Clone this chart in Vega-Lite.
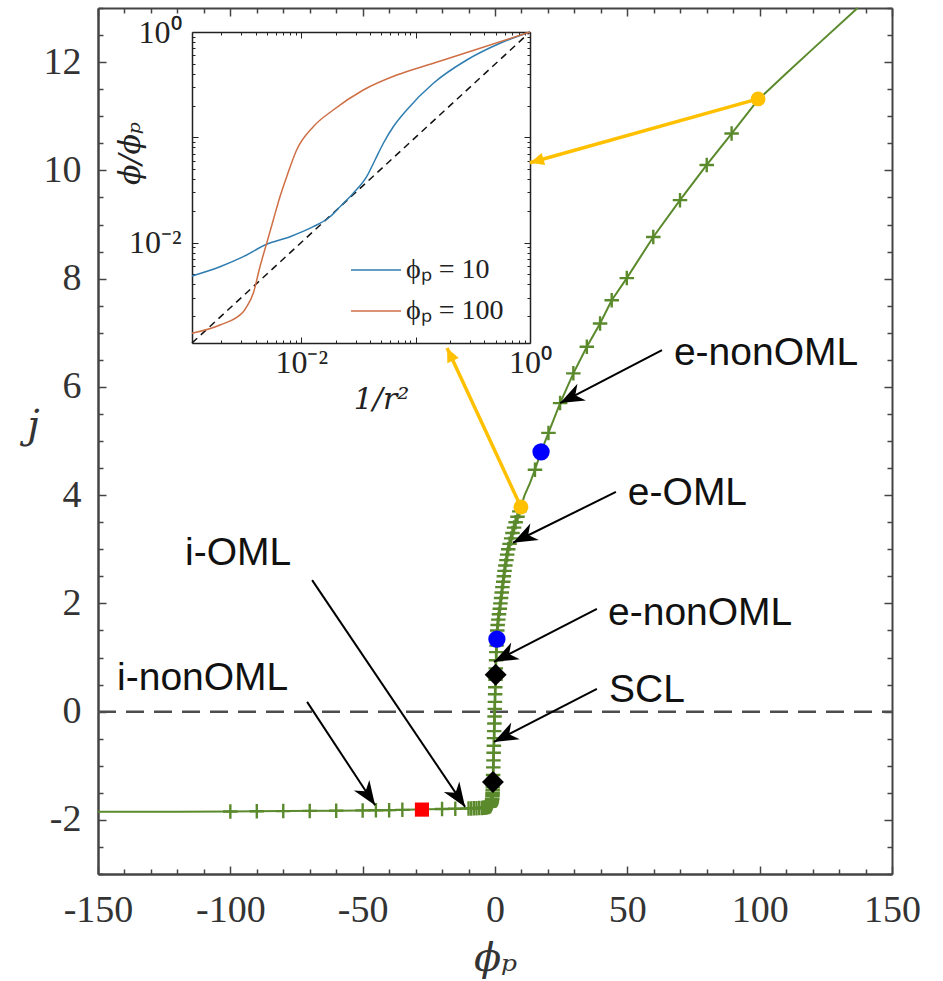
{
  "$schema": "https://vega.github.io/schema/vega-lite/v6.json",
  "width": 794,
  "height": 866,
  "autosize": {"type": "none"},
  "padding": {"left": 98, "top": 8, "right": 51, "bottom": 107},
  "background": "white",
  "config": {
    "view": {"stroke": null},
    "font": "Liberation Serif",
    "axis": {"grid": false, "labelColor": "#333333", "domainColor": "#444444", "tickColor": "#444444", "labelFont": "Liberation Serif", "titleFont": "DejaVu Serif", "titleColor": "#333333", "titleFontWeight": "normal", "labelOverlap": false, "labelFlush": false}
  },
  "datasets": {
    "curve": [
      {"phi": -150, "j": -1.85}, {"phi": -120, "j": -1.848}, {"phi": -100, "j": -1.845}, {"phi": -80, "j": -1.838},
      {"phi": -60, "j": -1.83}, {"phi": -40, "j": -1.82}, {"phi": -30, "j": -1.81}, {"phi": -20, "j": -1.8},
      {"phi": -12, "j": -1.79}, {"phi": -8, "j": -1.785}, {"phi": -5, "j": -1.78}, {"phi": -3, "j": -1.765},
      {"phi": -2, "j": -1.75}, {"phi": -1.4, "j": -1.7}, {"phi": -1.05, "j": -1.61}, {"phi": -0.9, "j": -1.5},
      {"phi": -0.8, "j": -1.35}, {"phi": -0.6, "j": -0.95}, {"phi": -0.3, "j": -0.36}, {"phi": 0, "j": 0.25},
      {"phi": 0.3, "j": 0.8}, {"phi": 0.6, "j": 1.22}, {"phi": 0.85, "j": 1.5}, {"phi": 1.25, "j": 1.7},
      {"phi": 1.8, "j": 1.9}, {"phi": 2.3, "j": 2.1}, {"phi": 2.8, "j": 2.3}, {"phi": 3.35, "j": 2.5},
      {"phi": 3.9, "j": 2.7}, {"phi": 4.6, "j": 2.9}, {"phi": 5.5, "j": 3.1}, {"phi": 6.6, "j": 3.3},
      {"phi": 7.8, "j": 3.5}, {"phi": 9.2, "j": 3.7}, {"phi": 11.2, "j": 4.0}, {"phi": 13.2, "j": 4.22},
      {"phi": 15.1, "j": 4.47}, {"phi": 17.4, "j": 4.8}, {"phi": 20.2, "j": 5.15}, {"phi": 24.6, "j": 5.7},
      {"phi": 29.6, "j": 6.25}, {"phi": 34.7, "j": 6.74}, {"phi": 39.7, "j": 7.17}, {"phi": 44.1, "j": 7.6},
      {"phi": 49.8, "j": 8.01}, {"phi": 59.8, "j": 8.77}, {"phi": 69.9, "j": 9.45}, {"phi": 80, "j": 10.1},
      {"phi": 89.4, "j": 10.68}, {"phi": 99.5, "j": 11.31}, {"phi": 110, "j": 11.79}, {"phi": 120, "j": 12.24},
      {"phi": 137, "j": 13.0}
    ],
    "markers": [
      {"phi": -100, "j": -1.845}, {"phi": -90, "j": -1.842}, {"phi": -80, "j": -1.838}, {"phi": -70, "j": -1.834},
      {"phi": -60, "j": -1.83}, {"phi": -50, "j": -1.825}, {"phi": -45, "j": -1.822}, {"phi": -40, "j": -1.82},
      {"phi": -35, "j": -1.815}, {"phi": -20, "j": -1.8}, {"phi": -15, "j": -1.795},
      {"phi": -10, "j": -1.79}, {"phi": -9, "j": -1.79}, {"phi": -8, "j": -1.785}, {"phi": -7, "j": -1.785},
      {"phi": -6, "j": -1.78}, {"phi": -5, "j": -1.78}, {"phi": -4.5, "j": -1.778}, {"phi": -4, "j": -1.775}, {"phi": -3.5, "j": -1.77},
      {"phi": -3, "j": -1.765}, {"phi": -2.5, "j": -1.76}, {"phi": -2.2, "j": -1.755}, {"phi": -2, "j": -1.75}, {"phi": -1.85, "j": -1.74}, {"phi": -1.7, "j": -1.73},
      {"phi": -1.55, "j": -1.715}, {"phi": -1.4, "j": -1.7}, {"phi": -1.3, "j": -1.68}, {"phi": -1.2, "j": -1.66}, {"phi": -1.12, "j": -1.635}, {"phi": -1.05, "j": -1.61}, {"phi": -0.95, "j": -1.56},
      {"phi": -0.92, "j": -1.53}, {"phi": -0.9, "j": -1.5}, {"phi": -0.87, "j": -1.45}, {"phi": -0.84, "j": -1.4}, {"phi": -0.8, "j": -1.35},
      {"phi": -0.72, "j": -1.17}, {"phi": -0.65, "j": -1.03}, {"phi": -0.58, "j": -0.9}, {"phi": -0.5, "j": -0.76},
      {"phi": -0.43, "j": -0.63}, {"phi": -0.36, "j": -0.49}, {"phi": -0.3, "j": -0.36}, {"phi": -0.23, "j": -0.22},
      {"phi": -0.16, "j": -0.09}, {"phi": -0.1, "j": 0.05}, {"phi": -0.03, "j": 0.18}, {"phi": 0.04, "j": 0.32},
      {"phi": 0.11, "j": 0.45}, {"phi": 0.18, "j": 0.59}, {"phi": 0.3, "j": 0.8}, {"phi": 0.4, "j": 0.95},
      {"phi": 0.5, "j": 1.1}, {"phi": 0.6, "j": 1.22},
      {"phi": 0.7, "j": 1.4}, {"phi": 0.85, "j": 1.5}, {"phi": 1.0, "j": 1.6}, {"phi": 1.25, "j": 1.7},
      {"phi": 1.5, "j": 1.8}, {"phi": 1.8, "j": 1.9}, {"phi": 2.05, "j": 2.0}, {"phi": 2.3, "j": 2.1},
      {"phi": 2.55, "j": 2.2}, {"phi": 2.8, "j": 2.3}, {"phi": 3.1, "j": 2.4}, {"phi": 3.35, "j": 2.5},
      {"phi": 3.6, "j": 2.6}, {"phi": 3.9, "j": 2.7}, {"phi": 4.3, "j": 2.8}, {"phi": 4.6, "j": 2.9},
      {"phi": 5.0, "j": 3.0}, {"phi": 5.5, "j": 3.1}, {"phi": 6.1, "j": 3.2}, {"phi": 6.6, "j": 3.3},
      {"phi": 7.2, "j": 3.4}, {"phi": 7.8, "j": 3.5}, {"phi": 8.5, "j": 3.6}, {"phi": 9.2, "j": 3.7},
      {"phi": 15.1, "j": 4.47}, {"phi": 20.2, "j": 5.15}, {"phi": 24.6, "j": 5.7}, {"phi": 29.6, "j": 6.25},
      {"phi": 34.7, "j": 6.74}, {"phi": 39.7, "j": 7.17}, {"phi": 44.1, "j": 7.6}, {"phi": 49.8, "j": 8.01},
      {"phi": 59.8, "j": 8.77}, {"phi": 69.9, "j": 9.45}, {"phi": 80, "j": 10.1}, {"phi": 89.4, "j": 10.68}
    ],
    "zero": [{"phi": -150, "j": 0}, {"phi": 150, "j": 0}],
    "special": [
      {"phi": 17.4, "j": 4.8, "kind": "blue"}, {"phi": 0.72, "j": 1.34, "kind": "blue"},
      {"phi": 0.25, "j": 0.68, "kind": "diamond"}, {"phi": -0.78, "j": -1.3, "kind": "diamond"},
      {"phi": -27.6, "j": -1.81, "kind": "red"},
      {"phi": 99.4, "j": 11.32, "kind": "yellow"}, {"phi": 9.8, "j": 3.78, "kind": "yellow"}
    ],
    "yarrows": [
      {"phi": 99.4, "j": 11.32, "phi2": 13.2, "j2": 10.14, "id": "a"},
      {"phi": 9.8, "j": 3.78, "phi2": -18.1, "j2": 6.72, "id": "b"}
    ],
    "arrows": [
      {"phi": 63.1, "j": 6.68, "phi2": 24.6, "j2": 5.7, "side": "r"},
      {"phi": 45.7, "j": 4.06, "phi2": 6.8, "j2": 3.12, "side": "r"},
      {"phi": 38.5, "j": 1.9, "phi2": -0.4, "j2": 0.92, "side": "r"},
      {"phi": 38.5, "j": 0.42, "phi2": -0.4, "j2": -0.56, "side": "r"},
      {"phi": -69.1, "j": 2.43, "phi2": -11.3, "j2": -1.76, "side": "l"},
      {"phi": -71.0, "j": 0.18, "phi2": -45.3, "j2": -1.73, "side": "l"}
    ],
    "labels": [
      {"phi": 67.6, "j": 6.63, "t": "e-nonOML"},
      {"phi": 50.2, "j": 4.04, "t": "e-OML"},
      {"phi": 42.7, "j": 1.82, "t": "e-nonOML"},
      {"phi": 43.1, "j": 0.4, "t": "SCL"},
      {"phi": -117.1, "j": 2.93, "t": "i-OML"},
      {"phi": -142.8, "j": 0.62, "t": "i-nonOML"}
    ],
    "inset": [
      {"r": 0.00111, "ratio": 0.00481, "series": "ϕₚ = 10"}, {"r": 0.00195, "ratio": 0.00589, "series": "ϕₚ = 10"},
      {"r": 0.00312, "ratio": 0.00734, "series": "ϕₚ = 10"}, {"r": 0.00499, "ratio": 0.00962, "series": "ϕₚ = 10"},
      {"r": 0.00798, "ratio": 0.01136, "series": "ϕₚ = 10"}, {"r": 0.01274, "ratio": 0.01413, "series": "ϕₚ = 10"},
      {"r": 0.01785, "ratio": 0.01758, "series": "ϕₚ = 10"}, {"r": 0.02184, "ratio": 0.02188, "series": "ϕₚ = 10"},
      {"r": 0.0285, "ratio": 0.0294, "series": "ϕₚ = 10"}, {"r": 0.03733, "ratio": 0.04217, "series": "ϕₚ = 10"},
      {"r": 0.0442, "ratio": 0.0608, "series": "ϕₚ = 10"}, {"r": 0.05224, "ratio": 0.0877, "series": "ϕₚ = 10"},
      {"r": 0.0638, "ratio": 0.1259, "series": "ϕₚ = 10"}, {"r": 0.0836, "ratio": 0.1816, "series": "ϕₚ = 10"},
      {"r": 0.1429, "ratio": 0.3258, "series": "ϕₚ = 10"}, {"r": 0.2799, "ratio": 0.542, "series": "ϕₚ = 10"},
      {"r": 0.547, "ratio": 0.782, "series": "ϕₚ = 10"}, {"r": 1, "ratio": 1, "series": "ϕₚ = 10"},
      {"r": 0.00111, "ratio": 0.001374, "series": "ϕₚ = 100"}, {"r": 0.00195, "ratio": 0.001644, "series": "ϕₚ = 100"},
      {"r": 0.00312, "ratio": 0.002203, "series": "ϕₚ = 100"}, {"r": 0.00334, "ratio": 0.00246, "series": "ϕₚ = 100"},
      {"r": 0.00381, "ratio": 0.0033, "series": "ϕₚ = 100"}, {"r": 0.00436, "ratio": 0.00589, "series": "ϕₚ = 100"},
      {"r": 0.00499, "ratio": 0.00984, "series": "ϕₚ = 100"}, {"r": 0.0057, "ratio": 0.01637, "series": "ϕₚ = 100"},
      {"r": 0.00652, "ratio": 0.0272, "series": "ϕₚ = 100"}, {"r": 0.00747, "ratio": 0.0422, "series": "ϕₚ = 100"},
      {"r": 0.00912, "ratio": 0.0757, "series": "ϕₚ = 100"}, {"r": 0.01274, "ratio": 0.1259, "series": "ϕₚ = 100"},
      {"r": 0.01905, "ratio": 0.1816, "series": "ϕₚ = 100"}, {"r": 0.0349, "ratio": 0.2812, "series": "ϕₚ = 100"},
      {"r": 0.0684, "ratio": 0.39, "series": "ϕₚ = 100"}, {"r": 0.1429, "ratio": 0.505, "series": "ϕₚ = 100"},
      {"r": 0.3656, "ratio": 0.7, "series": "ϕₚ = 100"}, {"r": 1, "ratio": 1, "series": "ϕₚ = 100"}
    ],
    "diag": [{"r": 0.00111, "ratio": 0.00111}, {"r": 1, "ratio": 1}]
  },
  "layer": [
    {
      "encoding": {
        "x": {"field": "phi", "type": "quantitative", "scale": {"domain": [-150, 150], "nice": false, "zero": false}, "axis": null},
        "y": {"field": "j", "type": "quantitative", "scale": {"domain": [-3, 13], "nice": false, "zero": false}, "axis": null}
      },
      "layer": [
        {
          "data": {"name": "zero"},
          "mark": {"type": "line", "color": "#4d4d4d", "strokeWidth": 2.5, "strokeDash": [18, 10]}
        },
        {
          "data": {"name": "curve"},
          "mark": {"type": "line", "color": "#5b8a2d", "strokeWidth": 2},
          "encoding": {
            "x": {"field": "phi", "type": "quantitative", "scale": {"domain": [-150, 150], "nice": false, "zero": false},
              "axis": {"orient": "bottom", "values": [-150,-140,-130,-120,-110,-100,-90,-80,-70,-60,-50,-40,-30,-20,-10,0,10,20,30,40,50,60,70,80,90,100,110,120,130,140,150],
                "labelExpr": "datum.value % 50 == 0 ? '' + datum.value : ''",
                "tickSize": {"condition": {"test": "datum.value % 50 == 0", "value": -8}, "value": -5},
                "tickWidth": 1.5, "domainWidth": 2.5, "labelFontSize": 38, "labelPadding": 25,
                "title": "ϕₚ", "titleFontSize": 40, "titleFontStyle": "italic", "titleX": 397, "titleY": 84, "titleBaseline": "middle", "titleAlign": "center"}},
            "y": {"field": "j", "type": "quantitative", "scale": {"domain": [-3, 13], "nice": false, "zero": false},
              "axis": {"orient": "left", "values": [-3,-2.5,-2,-1.5,-1,-0.5,0,0.5,1,1.5,2,2.5,3,3.5,4,4.5,5,5.5,6,6.5,7,7.5,8,8.5,9,9.5,10,10.5,11,11.5,12,12.5,13],
                "labelExpr": "datum.value % 2 == 0 ? '' + datum.value : ''",
                "tickSize": {"condition": {"test": "datum.value % 2 == 0", "value": -8}, "value": -5},
                "tickWidth": 1.5, "domainWidth": 2.5, "labelFontSize": 38, "labelPadding": 25,
                "title": "j", "titleFontSize": 40, "titleFontStyle": "italic", "titleAngle": 0, "titleX": -65, "titleY": 417, "titleBaseline": "middle", "titleAlign": "center"}}
          }
        },
        {
          "data": {"name": "markers"},
          "mark": {"type": "point", "shape": "M-1,0L1,0M0,-1L0,1", "filled": false, "color": "#5b8a2d", "strokeWidth": 2.4, "size": 210, "opacity": 1},
          "encoding": {
            "x": {"field": "phi", "type": "quantitative", "scale": {"domain": [-150, 150], "nice": false, "zero": false},
              "axis": {"orient": "top", "values": [-150,-140,-130,-120,-110,-100,-90,-80,-70,-60,-50,-40,-30,-20,-10,0,10,20,30,40,50,60,70,80,90,100,110,120,130,140,150],
                "labels": false, "title": null, "domainWidth": 2,
                "tickSize": {"condition": {"test": "datum.value % 50 == 0", "value": -8}, "value": -5}, "tickWidth": 1.5}},
            "y": {"field": "j", "type": "quantitative", "scale": {"domain": [-3, 13], "nice": false, "zero": false},
              "axis": {"orient": "right", "values": [-3,-2.5,-2,-1.5,-1,-0.5,0,0.5,1,1.5,2,2.5,3,3.5,4,4.5,5,5.5,6,6.5,7,7.5,8,8.5,9,9.5,10,10.5,11,11.5,12,12.5,13],
                "labels": false, "title": null, "domainWidth": 2,
                "tickSize": {"condition": {"test": "datum.value % 2 == 0", "value": -8}, "value": -5}, "tickWidth": 1.5}}
          }
        },
        {
          "data": {"name": "yarrows"},
          "mark": {"type": "rule", "color": "#ffc000", "strokeWidth": 3.5},
          "encoding": {"x2": {"field": "phi2"}, "y2": {"field": "j2"}}
        },
        {
          "data": {"name": "yarrows"},
          "transform": [{"filter": "datum.id == 'a'"}],
          "mark": {"type": "point", "shape": "M0,0L-2,-0.9L-2,0.9Z", "filled": true, "color": "#ffc000", "size": 196, "angle": 164.3, "opacity": 1},
          "encoding": {"x": {"field": "phi2", "type": "quantitative", "axis": null}, "y": {"field": "j2", "type": "quantitative", "axis": null}}
        },
        {
          "data": {"name": "yarrows"},
          "transform": [{"filter": "datum.id == 'b'"}],
          "mark": {"type": "point", "shape": "M0,0L-2,-0.9L-2,0.9Z", "filled": true, "color": "#ffc000", "size": 196, "angle": 244.8, "opacity": 1},
          "encoding": {"x": {"field": "phi2", "type": "quantitative", "axis": null}, "y": {"field": "j2", "type": "quantitative", "axis": null}}
        },
        {
          "data": {"name": "special"},
          "transform": [{"filter": "datum.kind == 'yellow'"}],
          "mark": {"type": "point", "shape": "circle", "filled": true, "color": "#ffc000", "size": 220, "opacity": 1}
        },
        {
          "data": {"name": "special"},
          "transform": [{"filter": "datum.kind == 'blue'"}],
          "mark": {"type": "point", "shape": "circle", "filled": true, "color": "#0000ff", "size": 300, "opacity": 1}
        },
        {
          "data": {"name": "special"},
          "transform": [{"filter": "datum.kind == 'diamond'"}],
          "mark": {"type": "point", "shape": "diamond", "filled": true, "color": "#000000", "size": 480, "opacity": 1}
        },
        {
          "data": {"name": "special"},
          "transform": [{"filter": "datum.kind == 'red'"}],
          "mark": {"type": "point", "shape": "square", "filled": true, "color": "#ff0000", "size": 200, "opacity": 1}
        },
        {
          "data": {"name": "arrows"},
          "mark": {"type": "rule", "color": "#000000", "strokeWidth": 2},
          "encoding": {"x2": {"field": "phi2"}, "y2": {"field": "j2"}}
        },
        {
          "data": {"name": "arrows"},
          "transform": [{"filter": "datum.side == 'r'"}],
          "mark": {"type": "point", "shape": "M0,0L-2.2,-0.85L-1.55,0L-2.2,0.85Z", "filled": true, "color": "#000000", "size": 484, "angle": 153, "opacity": 1},
          "encoding": {"x": {"field": "phi2", "type": "quantitative", "axis": null}, "y": {"field": "j2", "type": "quantitative", "axis": null}}
        },
        {
          "data": {"name": "arrows"},
          "transform": [{"filter": "datum.side == 'l'"}],
          "mark": {"type": "point", "shape": "M0,0L-2.2,-0.85L-1.55,0L-2.2,0.85Z", "filled": true, "color": "#000000", "size": 484, "angle": 56, "opacity": 1},
          "encoding": {"x": {"field": "phi2", "type": "quantitative", "axis": null}, "y": {"field": "j2", "type": "quantitative", "axis": null}}
        },
        {
          "data": {"name": "labels"},
          "mark": {"type": "text", "font": "Liberation Sans", "fontSize": 39, "align": "left", "baseline": "middle", "color": "#111111"},
          "encoding": {"text": {"field": "t"}}
        }
      ],
      "resolve": {"axis": {"x": "independent", "y": "independent"}}
    },
    {
      "encoding": {
        "x": {"field": "r", "type": "quantitative", "scale": {"type": "log", "domain": [0.00111, 1], "range": [94, 432], "nice": false}, "axis": null},
        "y": {"field": "ratio", "type": "quantitative", "scale": {"type": "log", "domain": [0.00111, 1], "range": [335, 24], "nice": false}, "axis": null}
      },
      "layer": [
        {
          "data": {"name": "diag"},
          "mark": {"type": "line", "color": "#111111", "strokeWidth": 1.5, "strokeDash": [7, 5]},
          "encoding": {
            "x": {"field": "r", "type": "quantitative", "scale": {"type": "log", "domain": [0.00111, 1], "range": [94, 432], "nice": false},
              "axis": {"orient": "top", "offset": -24, "values": [0.002,0.003,0.004,0.005,0.006,0.007,0.008,0.009,0.01,0.02,0.03,0.04,0.05,0.06,0.07,0.08,0.09,0.1,0.2,0.3,0.4,0.5,0.6,0.7,0.8,0.9,1],
                "labels": false, "title": null, "domainColor": "#222222", "tickColor": "#222222", "domainWidth": 1.5,
                "tickSize": {"condition": {"test": "datum.value == 0.01 || datum.value == 0.1 || datum.value == 1", "value": -6}, "value": -3}}},
            "y": {"field": "ratio", "type": "quantitative", "scale": {"type": "log", "domain": [0.00111, 1], "range": [335, 24], "nice": false},
              "axis": {"orient": "right", "offset": -362, "values": [0.002,0.003,0.004,0.005,0.006,0.007,0.008,0.009,0.01,0.02,0.03,0.04,0.05,0.06,0.07,0.08,0.09,0.1,0.2,0.3,0.4,0.5,0.6,0.7,0.8,0.9,1],
                "labels": false, "title": null, "domainColor": "#222222", "tickColor": "#222222", "domainWidth": 1.5,
                "tickSize": {"condition": {"test": "datum.value == 0.01 || datum.value == 0.1 || datum.value == 1", "value": -6}, "value": -3}}}
          }
        },
        {
          "data": {"name": "inset"},
          "mark": {"type": "line", "strokeWidth": 1.5, "interpolate": "monotone"},
          "encoding": {
            "x": {"field": "r", "type": "quantitative", "scale": {"type": "log", "domain": [0.00111, 1], "range": [94, 432], "nice": false},
              "axis": {"orient": "bottom", "offset": -531, "values": [0.002,0.003,0.004,0.005,0.006,0.007,0.008,0.009,0.01,0.02,0.03,0.04,0.05,0.06,0.07,0.08,0.09,0.1,0.2,0.3,0.4,0.5,0.6,0.7,0.8,0.9,1],
                "labelExpr": "datum.value == 0.01 ? '10⁻²' : (datum.value == 1 ? '10⁰' : '')",
                "labelFontSize": 32, "labelPadding": 10, "labelColor": "#222222",
                "domainColor": "#222222", "tickColor": "#222222", "domainWidth": 1.5,
                "tickSize": {"condition": {"test": "datum.value == 0.01 || datum.value == 0.1 || datum.value == 1", "value": -6}, "value": -3},
                "title": "1/r²", "titleFontSize": 30, "titleFontStyle": "italic", "titleX": 283, "titleY": 56, "titleBaseline": "middle", "titleAlign": "center", "titleColor": "#222222"}},
            "y": {"field": "ratio", "type": "quantitative", "scale": {"type": "log", "domain": [0.00111, 1], "range": [335, 24], "nice": false},
              "axis": {"orient": "left", "offset": -94, "values": [0.002,0.003,0.004,0.005,0.006,0.007,0.008,0.009,0.01,0.02,0.03,0.04,0.05,0.06,0.07,0.08,0.09,0.1,0.2,0.3,0.4,0.5,0.6,0.7,0.8,0.9,1],
                "labelExpr": "datum.value == 0.01 ? '10⁻²' : (datum.value == 1 ? '10⁰' : '')",
                "labelFontSize": 32, "labelPadding": 17, "labelColor": "#222222",
                "domainColor": "#222222", "tickColor": "#222222", "domainWidth": 1.5,
                "tickSize": {"condition": {"test": "datum.value == 0.01 || datum.value == 0.1 || datum.value == 1", "value": -6}, "value": -3},
                "title": "ϕ/ϕₚ", "titleFontSize": 30, "titleFontStyle": "italic", "titleAngle": -90, "titleX": -62, "titleY": 145, "titleBaseline": "middle", "titleAlign": "center", "titleColor": "#222222"}},
            "color": {"field": "series", "type": "nominal",
              "scale": {"domain": ["ϕₚ = 10", "ϕₚ = 100"], "range": ["#2f7db0", "#cf6f45"]},
              "legend": {"orient": "none", "legendX": 252, "legendY": 236, "title": null, "symbolType": "stroke", "symbolSize": 2500, "symbolStrokeWidth": 1.5, "labelFontSize": 28, "labelFont": "Liberation Serif", "labelColor": "#222222", "rowPadding": 1, "padding": 0, "labelOffset": 4}}
          }
        }
      ],
      "resolve": {"axis": {"x": "independent", "y": "independent"}}
    }
  ],
  "resolve": {"scale": {"x": "independent", "y": "independent"}}
}
